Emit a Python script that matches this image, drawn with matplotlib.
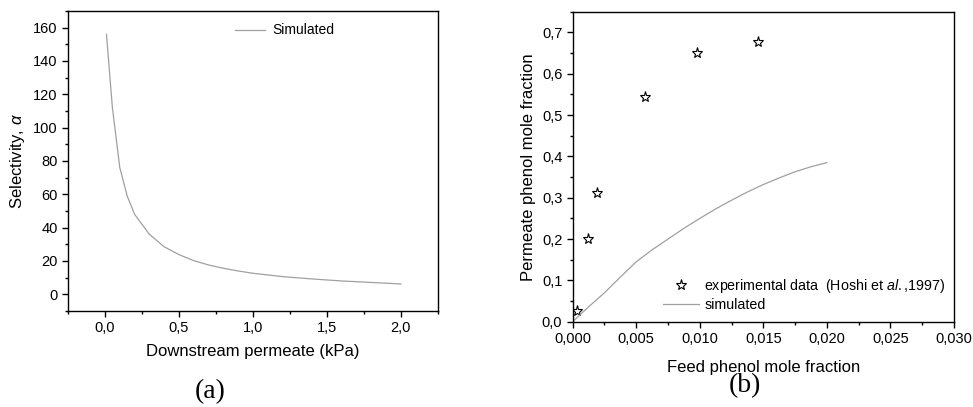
import numpy as np
import matplotlib
matplotlib.use("Agg")
import matplotlib.pyplot as plt
from matplotlib.ticker import MultipleLocator, FuncFormatter

plt.rcParams['font.family'] = ['Liberation Sans', 'DejaVu Sans']
plt.rcParams['mathtext.fontset'] = 'custom'
plt.rcParams['mathtext.rm'] = 'Liberation Sans'
plt.rcParams['mathtext.it'] = 'Liberation Sans:italic'

# (a) selectivity vs downstream pressure
p_kpa = [0.01, 0.05, 0.1, 0.15, 0.2, 0.3, 0.4, 0.5, 0.6, 0.7, 0.8, 0.9, 1.0, 1.2, 1.4, 1.6, 1.8, 2.0]
selectivity = [156, 112, 76, 59, 48, 36, 28.5, 23.8, 20.2, 17.6, 15.6, 14.0, 12.6, 10.6, 9.2, 8.0, 7.1, 6.2]

# (b) permeate vs feed phenol mole fraction
feed_exp = [0.00037, 0.00118, 0.00194, 0.00572, 0.00978, 0.01458]
perm_exp = [0.027, 0.199, 0.312, 0.545, 0.651, 0.676]
feed_sim = [0.0, 0.00125, 0.0025, 0.00375, 0.005, 0.00625, 0.0075, 0.00875, 0.010,
            0.01125, 0.0125, 0.01375, 0.015, 0.01625, 0.0175, 0.01875, 0.020]
perm_sim = [0.0, 0.036, 0.07, 0.108, 0.145, 0.174, 0.20, 0.226, 0.25,
            0.273, 0.294, 0.314, 0.332, 0.348, 0.363, 0.375, 0.385]


def comma(fmt):
    return FuncFormatter(lambda v, pos: (fmt % v).replace('.', ','))


def style(ax):
    for s in ax.spines.values():
        s.set_linewidth(1.0)
    ax.tick_params(which='major', direction='out', length=4, width=1, labelsize=10.5)
    ax.tick_params(which='minor', direction='out', length=2.5, width=1)


fig = plt.figure(figsize=(9.73, 4.07), dpi=100)

ax1 = fig.add_axes([0.0699, 0.236, 0.3801, 0.737])
ax1.plot(p_kpa, selectivity, color='#a0a0a0', lw=0.9, label='Simulated')
ax1.set_xlim(-0.25, 2.25)
ax1.set_ylim(-10, 170)
ax1.xaxis.set_major_locator(MultipleLocator(0.5))
ax1.xaxis.set_minor_locator(MultipleLocator(0.25))
ax1.yaxis.set_major_locator(MultipleLocator(20))
ax1.yaxis.set_minor_locator(MultipleLocator(10))
ax1.xaxis.set_major_formatter(comma('%.1f'))
ax1.yaxis.set_major_formatter(comma('%d'))
style(ax1)
ax1.set_xlabel('Downstream permeate (kPa)', fontsize=12, labelpad=6)
ax1.set_ylabel(r'Selectivity, $\it{\alpha}$', fontsize=12, labelpad=4)
ax1.legend(loc='upper center', bbox_to_anchor=(0.585, 1.0), frameon=False,
           fontsize=10, handlelength=2.2, handletextpad=0.5)
fig.text(0.216, 0.039, '(a)', family='Liberation Serif', fontsize=20,
         ha='center', va='center')

ax2 = fig.add_axes([0.5886, 0.2096, 0.3919, 0.7614])
ax2.plot(feed_exp, perm_exp, linestyle='none', marker='*', markersize=8,
         markerfacecolor='white', markeredgecolor='black', markeredgewidth=0.8,
         label=r'experimental data  (Hoshi et $\it{al.}$,1997)')
ax2.plot(feed_sim, perm_sim, color='#a0a0a0', lw=0.9, label='simulated')
ax2.set_xlim(0, 0.030)
ax2.set_ylim(0, 0.75)
ax2.xaxis.set_major_locator(MultipleLocator(0.005))
ax2.xaxis.set_minor_locator(MultipleLocator(0.0025))
ax2.yaxis.set_major_locator(MultipleLocator(0.1))
ax2.yaxis.set_minor_locator(MultipleLocator(0.05))
ax2.xaxis.set_major_formatter(comma('%.3f'))
ax2.yaxis.set_major_formatter(comma('%.1f'))
style(ax2)
ax2.set_xlabel('Feed phenol mole fraction', fontsize=12, labelpad=10)
ax2.set_ylabel('Permeate phenol mole fraction', fontsize=12, labelpad=4)
ax2.legend(loc='lower right', frameon=False, fontsize=10.3, handlelength=2.5,
           handletextpad=0.4, borderaxespad=0.2, labelspacing=0.2,
           bbox_to_anchor=(1.0, 0.005))
fig.text(0.766, 0.052, '(b)', family='Liberation Serif', fontsize=20,
         ha='center', va='center')

fig.savefig('out.png', dpi=100)
